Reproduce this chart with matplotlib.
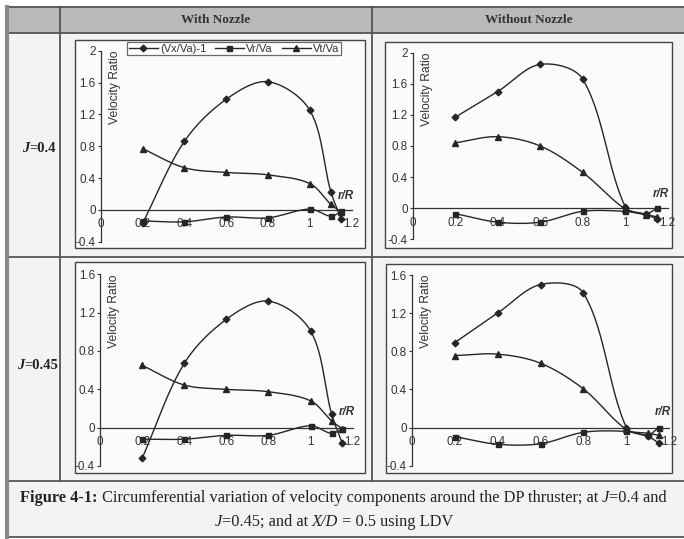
import numpy as np
import matplotlib
matplotlib.use("Agg")
import matplotlib.pyplot as plt
from matplotlib.patches import Rectangle
from matplotlib.lines import Line2D

# ---------------- data ----------------
r_R = [0.2, 0.4, 0.6, 0.8, 1.0, 1.1, 1.15]

# With nozzle, J=0.4
wn04_vx = [-0.17, 0.86, 1.39, 1.61, 1.25, 0.23, -0.12]
wn04_vr = [-0.14, -0.15, -0.09, -0.10, 0.01, -0.08, -0.02]
wn04_vt = [0.77, 0.53, 0.47, 0.44, 0.33, 0.07, -0.03]

# Without nozzle, J=0.4
won04_vx = [1.17, 1.50, 1.85, 1.66, 0.02, -0.08, -0.14]
won04_vr = [-0.07, -0.18, -0.18, -0.04, -0.04, -0.07, 0.00]
won04_vt = [0.84, 0.92, 0.80, 0.46, -0.01, -0.085, -0.11]

# With nozzle, J=0.45
wn045_vx = [-0.32, 0.67, 1.13, 1.32, 1.01, 0.14, -0.16]
wn045_vr = [-0.12, -0.12, -0.08, -0.08, 0.02, -0.06, -0.01]
wn045_vt = [0.65, 0.445, 0.40, 0.375, 0.28, 0.07, -0.01]

# Without nozzle, J=0.45
won045_vx = [0.89, 1.20, 1.50, 1.41, 0.00, -0.09, -0.16]
won045_vr = [-0.095, -0.175, -0.17, -0.05, -0.04, -0.08, 0.00]
won045_vt = [0.755, 0.77, 0.675, 0.405, -0.02, -0.06, -0.08]

series_names = ["(Vx/Va)-1", "Vr/Va", "Vt/Va"]
x_ticks = [0, 0.2, 0.4, 0.6, 0.8, 1.0, 1.2]
x_ticklabels = ["0", "0.2", "0.4", "0.6", "0.8", "1", "1.2"]
y_ticks_top = [-0.4, 0, 0.4, 0.8, 1.2, 1.6, 2.0]
y_ticklabels_top = ["-0.4", "0", "0.4", "0.8", "1.2", "1.6", "2"]
y_ticks_bot = [-0.4, 0, 0.4, 0.8, 1.2, 1.6]
y_ticklabels_bot = ["-0.4", "0", "0.4", "0.8", "1.2", "1.6"]

# ---------------- figure ----------------
W, H = 684, 539
DPI = 100
fig = plt.figure(figsize=(W / DPI, H / DPI), dpi=DPI, facecolor="white")
renderer = fig.canvas.get_renderer()

SANS = ["Liberation Sans", "DejaVu Sans"]
SERIF = ["Liberation Serif", "DejaVu Serif"]

def fx(px):
    return px / W

def fy(py):
    return 1 - py / H

bg = fig.add_axes([0, 0, 1, 1])
bg.set_xlim(0, W)
bg.set_ylim(H, 0)
bg.axis("off")
bg.set_zorder(-10)

cell_c = "#f3f3f1"
line_c = "#555555"
bg.add_patch(Rectangle((6, 7), W - 6, 530, facecolor=cell_c, edgecolor="none"))
bg.add_patch(Rectangle((6, 7), W - 6, 26, facecolor="#b9b9b7", edgecolor="none"))
for y in [7, 33, 257, 481, 537]:
    bg.plot([6, W], [y, y], color=line_c, lw=1.3)
bg.plot([6.5, 6.5], [7, 537], color="#888888", lw=3.0)
bg.plot([60, 60], [7, 481], color=line_c, lw=1.3)
bg.plot([372, 372], [7, 481], color=line_c, lw=1.3)

bg.text(216, 20, "With Nozzle", family=SERIF, fontweight="bold", fontsize=9.5,
        ha="center", va="center", color="#333333")
bg.text(529, 20, "Without Nozzle", family=SERIF, fontweight="bold", fontsize=9.5,
        ha="center", va="center", color="#333333")


def chain(pieces, x, y, size, center=False):
    arts = []
    cur = x
    for txt, style, weight in pieces:
        t = bg.text(cur, y, txt, ha="left", va="baseline", family=SERIF, fontsize=size,
                    fontstyle=style, fontweight=weight, color="#222222")
        w = t.get_window_extent(renderer).width
        cur += w
        arts.append(t)
    if center:
        total = cur - x
        shift = -total / 2.0
        for a in arts:
            px, py = a.get_position()
            a.set_position((px + shift, py))
    return arts

chain([("J", "italic", "bold"), ("=0.4", "normal", "bold")], 22, 152, 10.5)
chain([("J", "italic", "bold"), ("=0.45", "normal", "bold")], 17, 369, 10.5)

CAP = 11.8
chain([("Figure 4-1:", "normal", "bold"),
       (" Circumferential variation of velocity components around the DP thruster; at ", "normal", "normal"),
       ("J", "italic", "normal"), ("=0.4 and", "normal", "normal")], 20, 502, CAP)
chain([("J", "italic", "normal"), ("=0.45; and at ", "normal", "normal"),
       ("X/D", "italic", "normal"), (" = 0.5 using LDV", "normal", "normal")], 334, 526, CAP,
      center=True)

boxes = [(75, 40, 365, 248), (385, 42, 672, 248), (75, 262, 365, 473), (386, 264, 672, 473)]
for (x0, y0, x1, y1) in boxes:
    bg.add_patch(Rectangle((x0, y0), x1 - x0, y1 - y0, facecolor="#fbfbfa",
                           edgecolor="#444444", lw=1.0))


def smooth(xs, ys, sx, sy, n=30):
    P = np.column_stack([np.array(xs) * sx, np.array(ys) * sy]).astype(float)
    m = len(P)
    out = [P[0]]
    t = np.linspace(0, 1, n)[1:, None]

    def tangent(i):
        p0 = P[i - 1] if i > 0 else P[i]
        p2 = P[i + 1] if i + 1 < m else P[i]
        s = np.linalg.norm(P[i] - p0) + np.linalg.norm(p2 - P[i])
        if s == 0:
            return np.zeros(2)
        return (p2 - p0) / s

    for i in range(m - 1):
        p1, p2 = P[i], P[i + 1]
        seg_len = np.linalg.norm(p2 - p1)
        c1 = p1 + tangent(i) * seg_len / 3.0
        c2 = p2 - tangent(i + 1) * seg_len / 3.0
        seg = ((1 - t) ** 3) * p1 + 3 * ((1 - t) ** 2) * t * c1 + 3 * (1 - t) * t ** 2 * c2 + t ** 3 * p2
        out.extend(seg)
    out = np.array(out)
    return out[:, 0] / sx, out[:, 1] / sy


markers = ["D", "s", "^"]
msizes = [3.4, 3.6, 4.4]
lc = "#262626"

panels = [
    ((100.7, 50.7, 351.7, 241.7), [wn04_vx, wn04_vr, wn04_vt], 2.0, y_ticks_top, y_ticklabels_top),
    ((412.7, 52.7, 667.7, 239.3), [won04_vx, won04_vr, won04_vt], 2.0, y_ticks_top, y_ticklabels_top),
    ((100.0, 274.3, 352.7, 466.0), [wn045_vx, wn045_vr, wn045_vt], 1.6, y_ticks_bot, y_ticklabels_bot),
    ((411.7, 275.0, 669.3, 465.7), [won045_vx, won045_vr, won045_vt], 1.6, y_ticks_bot, y_ticklabels_bot),
]

handles = []
for k, ((l, t, r, b), data, ymax, yt, ytl) in enumerate(panels):
    ax = fig.add_axes([fx(l), fy(b), fx(r) - fx(l), fy(t) - fy(b)])
    ax.patch.set_alpha(0)
    ax.set_xlim(0, 1.2)
    ax.set_ylim(-0.4, ymax)
    for s in ["top", "right"]:
        ax.spines[s].set_visible(False)
    ax.spines["bottom"].set_position(("data", 0))
    for s in ["bottom", "left"]:
        ax.spines[s].set_linewidth(0.9)
        ax.spines[s].set_color("#333333")
    ax.set_xticks(x_ticks)
    ax.set_xticklabels(x_ticklabels, family=SANS, fontsize=8.4, color="#333333")
    ax.set_yticks(yt)
    ax.set_yticklabels(ytl, family=SANS, fontsize=8.4, color="#333333")
    ax.tick_params(axis="y", direction="out", length=2.2, width=0.8, pad=1.5, colors="#333333")
    ax.tick_params(axis="x", direction="out", length=0, pad=6, colors="#333333")
    sxp = (r - l) / 1.2
    syp = (b - t) / (ymax + 0.4)
    for i, ys in enumerate(data):
        cx, cy = smooth(r_R, ys, sxp, syp)
        ax.plot(cx, cy, color=lc, lw=1.0, zorder=3)
        ax.plot(r_R, ys, linestyle="none", marker=markers[i], ms=msizes[i],
                color=lc, zorder=4)
        if k == 0:
            handles.append(Line2D([], [], color=lc, lw=1.0, marker=markers[i],
                                  ms=msizes[i], label=series_names[i]))
    ax.text(0.057, 1.0, "Velocity Ratio", transform=ax.transAxes, rotation=90,
            ha="center", va="top", family=SANS, fontsize=8.7, color="#333333")
    ax.text(1.17, 0.12 * (ymax + 0.4) / 2.4 + 0.06, "r/R", ha="center", va="center",
            family=SANS, fontsize=8.4, fontstyle="italic", fontweight="bold", color="#333333")

leg = fig.legend(handles=handles, loc="upper left", bbox_to_anchor=(fx(127), fy(42)),
                 ncol=3, frameon=True, fancybox=False, edgecolor="#444444",
                 prop={"family": SANS, "size": 8}, handlelength=2.6, handletextpad=0.2,
                 columnspacing=0.8, borderpad=0.15, borderaxespad=0)
leg.get_frame().set_linewidth(0.9)
for txt in leg.get_texts():
    txt.set_color("#333333")

fig.savefig("out.png", dpi=DPI, facecolor="white")
